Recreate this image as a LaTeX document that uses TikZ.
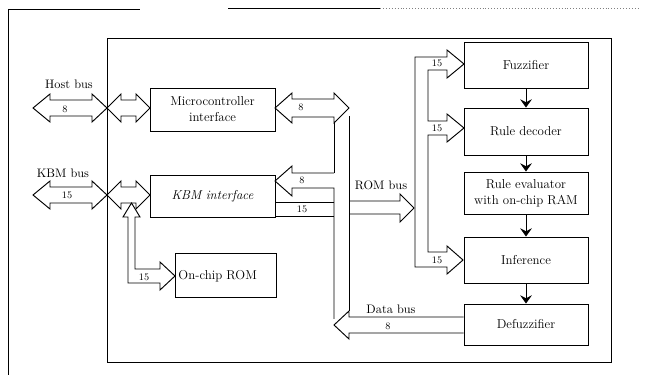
\documentclass[tikz,border=0pt]{standalone}
\usetikzlibrary{arrows.meta}
\begin{document}
\begin{tikzpicture}[x=0.03cm,y=-0.03cm, line width=0.8pt,
  box/.style={draw, inner sep=0pt, align=center, font=\fontsize{11}{13.5}\selectfont},
  bus/.style={draw, fill=white, line join=miter},
  num/.style={font=\fontsize{8.5}{9}\selectfont, inner sep=0pt},
  lbl/.style={font=\fontsize{10.5}{12}\selectfont, inner sep=0pt},
  flow/.style={-{Stealth[length=7pt,width=10pt,inset=2.5pt]}}]
\useasboundingbox (0,0) rectangle (646,375);
% outer frame fragments
\draw[line width=0.6pt] (8,9) -- (140,9);
\draw[line width=0.6pt] (228,8) -- (380,8);
\draw[line width=0.5pt, gray, dotted] (380,8) -- (640,8);
\draw[line width=0.6pt] (8,9) -- (8,375);
% chip frame
\draw (107,38) rectangle (611,362);
% blocks
\node[box, minimum width=3.75cm, minimum height=1.29cm] (micro) at (212.5,109.5) {Microcontroller\\interface};
\node[box, minimum width=3.75cm, minimum height=1.26cm] (kbm) at (212.5,196) {\textit{KBM interface}};
\node[box, minimum width=3.03cm, minimum height=1.32cm] (rom) at (225.5,275) {};
\node[anchor=west, inner sep=0pt, font=\fontsize{11}{13.5}\selectfont] (romt) at (178,276) {On-chip ROM};
\node[box, minimum width=3.72cm, minimum height=1.38cm] (fuzz) at (526,65) {Fuzzifier};
\node[box, minimum width=3.72cm, minimum height=1.41cm] (dec) at (526,131.5) {Rule decoder};
\node[box, minimum width=3.72cm, minimum height=1.26cm] (eval) at (526,193) {Rule evaluator\\with on-chip RAM};
\node[box, minimum width=3.72cm, minimum height=1.38cm] (inf) at (526,260) {Inference};
\node[box, minimum width=3.72cm, minimum height=1.23cm] (defz) at (526,324.5) {Defuzzifier};
% pipeline arrows
\draw[flow] (fuzz.south) -- (dec.north);
\draw[flow] (dec.south) -- (eval.north);
\draw[flow] (eval.south) -- (inf.north);
\draw[flow] (inf.south) -- (defz.north);
% host bus
\draw[bus] (33,108) -- (50,94) -- (50,100) -- (92,100) -- (92,94) -- (107,108) -- (92,122) -- (92,116) -- (50,116) -- (50,122) -- cycle;
\draw[bus] (107,108) -- (121,94) -- (121,100) -- (136,100) -- (136,94) -- (150,108) -- (136,122) -- (136,116) -- (121,116) -- (121,122) -- cycle;
\node[lbl] (hostl) at (69,84) {Host bus};
\node[num] (host8) at (65,109) {8};
% KBM bus
\draw[bus] (33,195) -- (50,181) -- (50,187) -- (92,187) -- (92,181) -- (107,195) -- (92,209) -- (92,203) -- (50,203) -- (50,209) -- cycle;
\draw[bus] (107,195) -- (121,181) -- (121,187) -- (136,187) -- (136,181) -- (150,195) -- (136,209) -- (136,203) -- (121,203) -- (121,209) -- cycle;
\node[lbl] (kbml) at (63,173) {KBM bus};
\node[num] (kbm15) at (67,195) {15};
% ROM feed bus
\draw[bus] (131.5,203) -- (140,217) -- (135,217) -- (135,269) -- (160,269) -- (160,262) -- (175,276) -- (160,290) -- (160,283) -- (128,283) -- (128,217) -- (123,217) -- cycle;
\node[num] (rom15) at (144,277) {15};
% microcontroller right bus
\draw[bus] (275,108) -- (292,93) -- (292,99) -- (334,99) -- (334,93) -- (349,108) -- (334,123) -- (334,117) -- (292,117) -- (292,123) -- cycle;
\node[num] (micro8) at (301,107) {8};
% channel
\draw (334,123) -- (334,173);
\draw (349,116) -- (349,311);
\draw[line join=miter] (334,173) -- (292,173) -- (292,166) -- (275,181) -- (292,196) -- (292,188) -- (334,188) -- (334,319);
\node[num] (kbm8) at (302,180) {8};
\draw (334,202) -- (275,202);
\draw (275,216) -- (334,216);
\node[num] (kbm15r) at (302,209) {15};
% ROM bus
\draw[line join=miter] (349,201) -- (400,201) -- (400,194) -- (414,208) -- (400,222) -- (400,214) -- (349,214);
\node[lbl] (romb) at (381,185) {ROM bus};
% distribution bus
\draw[bus] (428,70) -- (447,70) -- (447,78) -- (464,64) -- (447,50) -- (447,57) -- (415,57) -- (415,267) -- (447,267) -- (447,274) -- (463,260) -- (447,246) -- (447,252) -- (428,252) -- (428,135) -- (447,135) -- (447,142) -- (464,128) -- (447,114) -- (447,121) -- (428,121) -- cycle;
\node[num] (f15) at (437,63) {15};
\node[num] (d15) at (437,128) {15};
\node[num] (i15) at (437,260) {15};
% data bus
\draw[line join=miter] (defz.west |- 0,317) -- (349,317) -- (349,311) -- (334,325) -- (349,339) -- (349,333) -- (defz.west |- 0,333);
\node[lbl] (datab) at (391,309) {Data bus};
\node[num] (data8) at (388,326) {8};
\end{tikzpicture}
\end{document}
